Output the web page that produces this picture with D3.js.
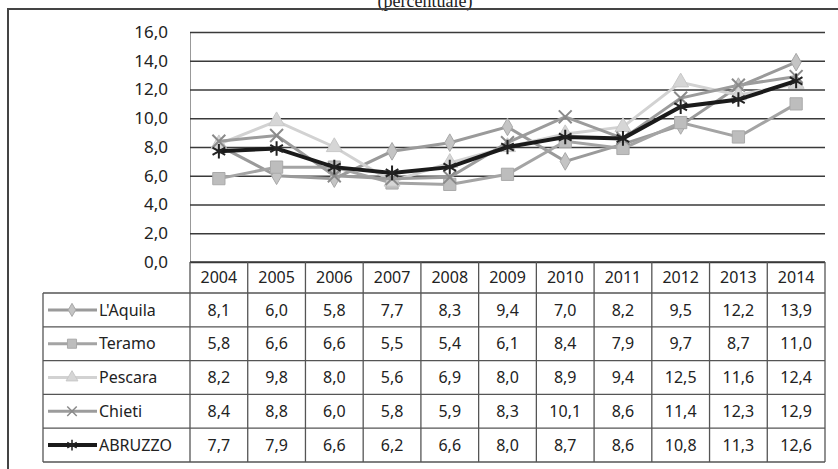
<!DOCTYPE html>
<html>
<head>
<meta charset="utf-8">
<script src="https://cdn.jsdelivr.net/npm/d3@7"></script>
<style>
  body { margin: 0; background: #fff; }
  text { font-family: "Noto Sans", sans-serif; fill: #222; }
</style>
</head>
<body>
<div id="canvas"></div>
<script>
(function(d3){

  // data
  var years = ['2004','2005','2006','2007','2008','2009','2010','2011','2012','2013','2014'],
      names = ["L'Aquila", 'Teramo', 'Pescara', 'Chieti', 'ABRUZZO'],
      laquila = [8.1, 6.0, 5.8, 7.7, 8.3, 9.4, 7.0, 8.2, 9.5, 12.2, 13.9],
      teramo  = [5.8, 6.6, 6.6, 5.5, 5.4, 6.1, 8.4, 7.9, 9.7, 8.7, 11.0],
      pescara = [8.2, 9.8, 8.0, 5.6, 6.9, 8.0, 8.9, 9.4, 12.5, 11.6, 12.4],
      chieti  = [8.4, 8.8, 6.0, 5.8, 5.9, 8.3, 10.1, 8.6, 11.4, 12.3, 12.9],
      abruzzo = [7.7, 7.9, 6.6, 6.2, 6.6, 8.0, 8.7, 8.6, 10.8, 11.3, 12.6],
      yTicks = [0, 2, 4, 6, 8, 10, 12, 14, 16];

  var seriesValues = [laquila, teramo, pescara, chieti, abruzzo];

  // look of each series
  var styles = [
    {line: '#9a9a9a', width: 3,   marker: d3.symbolDiamond, size: 90,  fill: '#c4c4c4', stroke: '#a8a8a8'},
    {line: '#a4a4a4', width: 3,   marker: d3.symbolSquare,  size: 150, fill: '#bdbdbd', stroke: '#aaaaaa'},
    {line: '#d2d2d2', width: 3,   marker: d3.symbolTriangle, size: 110, fill: '#d6d6d6', stroke: '#c8c8c8'},
    {line: '#9c9c9c', width: 3,   marker: d3.symbolX,       size: 110, fill: 'none',    stroke: '#8a8a8a'},
    {line: '#1a1a1a', width: 4,   marker: d3.symbolAsterisk, size: 150, fill: 'none',   stroke: '#222'}
  ];

  var W = 838, H = 469,
      plot = {left: 190, right: 825, top: 32, bottom: 262},
      table = {left: 43, header: 31, rowH: 33.8},
      svg, x, y, line;

  svg = d3.select('#canvas').append('svg')
      .attr('width', W)
      .attr('height', H);

  // title, cut off at the top of the scan
  svg.append('text')
      .attr('x', 425).attr('y', 7)
      .attr('text-anchor', 'middle')
      .style('font-family', '"Liberation Serif", serif')
      .style('font-size', '18px')
      .text('(percentuale)');

  // outer frame
  svg.append('path')
      .attr('d', 'M8,' + H + 'V9H' + W)
      .attr('fill', 'none')
      .attr('stroke', '#444')
      .attr('stroke-width', 2);

  x = d3.scaleBand().domain(years).range([plot.left, plot.right]);
  y = d3.scaleLinear().domain([0, 16]).range([plot.bottom, plot.top]);

  // gridlines
  svg.append('g')
      .attr('transform', 'translate(' + plot.left + ',0)')
      .call(d3.axisLeft(y).tickValues(yTicks).tickSize(-(plot.right - plot.left)).tickFormat(''))
      .call(function(g){
        g.select('.domain').attr('stroke', '#999').attr('stroke-width', 1);
        g.selectAll('.tick line').attr('stroke', '#3a3a3a').attr('stroke-width', 1.6);
      });

  // y labels
  svg.append('g').selectAll('text')
      .data(yTicks)
    .enter().append('text')
      .attr('x', 168)
      .attr('y', function(d){ return y(d); })
      .attr('dy', '0.35em')
      .attr('text-anchor', 'end')
      .style('font-size', '17px')
      .text(function(d){ return d3.format('.1f')(d).replace('.', ','); });

  // series
  line = d3.line()
      .x(function(d, i){ return x(years[i]) + x.bandwidth() / 2; })
      .y(function(d){ return y(d); });

  seriesValues.forEach(function(vals, s){
    var st = styles[s];
    svg.append('path')
        .datum(vals)
        .attr('d', line)
        .attr('fill', 'none')
        .attr('stroke', st.line)
        .attr('stroke-width', st.width);
    svg.append('g').selectAll('path')
        .data(vals)
      .enter().append('path')
        .attr('transform', function(d, i){
          return 'translate(' + (x(years[i]) + x.bandwidth() / 2) + ',' + y(d) + ')';
        })
        .attr('d', d3.symbol().type(st.marker).size(st.size))
        .attr('fill', st.fill)
        .attr('stroke', st.stroke)
        .attr('stroke-width', st.fill === 'none' ? 2 : 1);
  });

  // data table
  var tbl = svg.append('g'),
      rowTop = plot.bottom + table.header,
      tableBottom = rowTop + table.rowH * names.length;

  // horizontal rules
  tbl.append('line')
      .attr('x1', plot.left).attr('x2', plot.right)
      .attr('y1', plot.bottom).attr('y2', plot.bottom)
      .attr('stroke', '#3a3a3a').attr('stroke-width', 1.6);
  tbl.selectAll('line.h')
      .data(d3.range(names.length + 1))
    .enter().append('line')
      .attr('class', 'h')
      .attr('x1', table.left).attr('x2', plot.right)
      .attr('y1', function(i){ return rowTop + i * table.rowH; })
      .attr('y2', function(i){ return rowTop + i * table.rowH; })
      .attr('stroke', '#555').attr('stroke-width', 1.3);

  // vertical rules
  tbl.selectAll('line.v')
      .data(years.concat(['end']))
    .enter().append('line')
      .attr('class', 'v')
      .attr('x1', function(d){ return d === 'end' ? plot.right : x(d); })
      .attr('x2', function(d){ return d === 'end' ? plot.right : x(d); })
      .attr('y1', plot.bottom).attr('y2', tableBottom)
      .attr('stroke', '#555').attr('stroke-width', 1.3);
  tbl.append('line')
      .attr('x1', table.left).attr('x2', table.left)
      .attr('y1', rowTop).attr('y2', tableBottom)
      .attr('stroke', '#555').attr('stroke-width', 1.3);

  // year header
  tbl.selectAll('text.year')
      .data(years)
    .enter().append('text')
      .attr('class', 'year')
      .attr('x', function(d){ return x(d) + x.bandwidth() / 2; })
      .attr('y', plot.bottom + table.header / 2)
      .attr('dy', '0.35em')
      .attr('text-anchor', 'middle')
      .style('font-size', '16px')
      .text(function(d){ return d; });

  // rows
  names.forEach(function(name, s){
    var st = styles[s],
        cy = rowTop + table.rowH * s + table.rowH / 2;

    // legend key
    tbl.append('line')
        .attr('x1', 48).attr('x2', 97)
        .attr('y1', cy).attr('y2', cy)
        .attr('stroke', st.line).attr('stroke-width', st.width);
    tbl.append('path')
        .attr('transform', 'translate(72,' + cy + ')')
        .attr('d', d3.symbol().type(st.marker).size(st.size * 0.55))
        .attr('fill', st.fill)
        .attr('stroke', st.stroke)
        .attr('stroke-width', st.fill === 'none' ? 1.5 : 1);
    tbl.append('text')
        .attr('x', 99).attr('y', cy)
        .attr('dy', '0.35em')
        .style('font-size', '16px')
        .text(name);

    tbl.selectAll('text.v' + s)
        .data(seriesValues[s])
      .enter().append('text')
        .attr('x', function(d, i){ return x(years[i]) + x.bandwidth() / 2; })
        .attr('y', cy)
        .attr('dy', '0.35em')
        .attr('text-anchor', 'middle')
        .style('font-size', '16px')
        .text(function(d){ return d3.format('.1f')(d).replace('.', ','); });
  });

})(d3);
</script>
</body>
</html>
